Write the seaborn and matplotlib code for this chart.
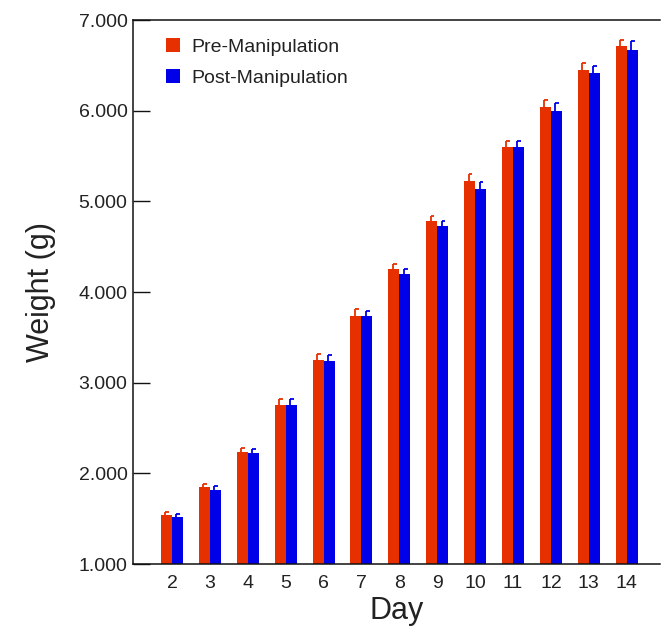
import matplotlib
matplotlib.use("Agg")
import matplotlib.pyplot as plt
from matplotlib.ticker import FormatStrFormatter
import seaborn as sns
import pandas as pd
import numpy as np

days = [2, 3, 4, 5, 6, 7, 8, 9, 10, 11, 12, 13, 14]
pre_weight = [1.537, 1.846, 2.235, 2.757, 3.250, 3.735, 4.254, 4.783, 5.228, 5.596, 6.044, 6.448, 6.710]
post_weight = [1.515, 1.816, 2.221, 2.757, 3.235, 3.735, 4.198, 4.728, 5.136, 5.596, 5.996, 6.412, 6.669]
pre_err = [0.033, 0.040, 0.050, 0.060, 0.070, 0.073, 0.055, 0.055, 0.070, 0.070, 0.070, 0.074, 0.070]
post_err = [0.040, 0.050, 0.050, 0.060, 0.065, 0.055, 0.055, 0.055, 0.077, 0.070, 0.086, 0.077, 0.096]
groups = ["Pre-Manipulation", "Post-Manipulation"]
colors = ["#E63000", "#0000E8"]
yticks = [1, 2, 3, 4, 5, 6, 7]

sns.set_style("white")
plt.rcParams["font.family"] = ["Liberation Sans", "DejaVu Sans"]

df = pd.DataFrame({
    "Day": [str(d) for d in days] * 2,
    "Weight": pre_weight + post_weight,
    "Group": [groups[0]] * len(days) + [groups[1]] * len(days),
})

fig = plt.figure(figsize=(6.65, 6.29), dpi=100)
ax = fig.add_axes([0.2, 0.1033, 0.792, 0.8649])

sns.barplot(data=df, x="Day", y="Weight", hue="Group", palette=colors,
            width=0.58, gap=0, errorbar=None, saturation=1, ax=ax,
            linewidth=0, edgecolor="none")

errs = [pre_err, post_err]
for cont, err, col in zip(ax.containers, errs, colors):
    xs = [p.get_x() + p.get_width() * 0.4 for p in cont]
    hs = [p.get_height() for p in cont]
    tops = [h + e for h, e in zip(hs, err)]
    ax.vlines(xs, hs, tops, color=col, lw=1.3, zorder=3)
    ax.hlines(tops, xs, [x + 0.1 for x in xs], color=col, lw=1.3, zorder=3)

ax.set_ylim(1, 7)
ax.set_xlim(-1.03, 12.87)
ax.set_yticks(yticks)
ax.yaxis.set_major_formatter(FormatStrFormatter("%.3f"))

tc = "#222222"
ax.set_xlabel("Day", fontsize=22, color=tc, labelpad=3)
ax.set_ylabel("Weight (g)", fontsize=22, color=tc, labelpad=16)
ax.tick_params(axis="y", left=True, direction="in", length=12, width=1,
               pad=4, labelsize=14, colors="#111111", labelcolor=tc)
ax.tick_params(axis="x", bottom=False, length=0, pad=8, labelsize=14,
               labelcolor=tc)

for s in ["left", "bottom", "top"]:
    ax.spines[s].set_visible(True)
    ax.spines[s].set_color("#111111")
    ax.spines[s].set_linewidth(1.1)
ax.spines["right"].set_visible(False)

leg = ax.legend(loc="upper left", bbox_to_anchor=(0.062, 0.966), frameon=False,
                fontsize=14, handlelength=0.72, handleheight=0.72,
                handletextpad=0.6, labelspacing=0.65, borderpad=0,
                borderaxespad=0)
for t in leg.get_texts():
    t.set_color(tc)

fig.savefig("out.png", dpi=100)
